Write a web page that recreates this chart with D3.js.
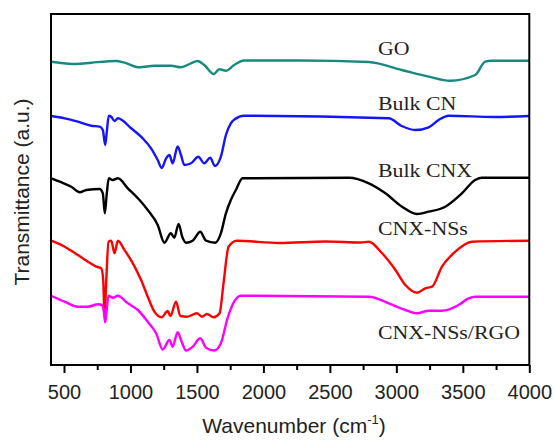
<!DOCTYPE html>
<html><head><meta charset="utf-8">
<script src="https://cdn.jsdelivr.net/npm/d3@7"></script>
<style>body{margin:0;background:#fff}</style>
</head><body>
<svg id="c" width="554" height="440"></svg>
<script>
// ---- data (transmittance in arbitrary units) ----
const seriesNames = ["GO", "Bulk CN", "Bulk CNX", "CNX-NSs", "CNX-NSs/RGO"];
const seriesColors = ["#168a80", "#1414ff", "#000000", "#ff0000", "#ff00ff"];

const goWave = [405,593,705,893,955,1068,1180,1305,1380,1455,1505,1555,1625,1668,1718,1780,1855,2268,2793,3040,3243,3405,3593,3668,3715,4000];
const goT    = [303.3,301,302.3,304,302.3,297.7,299.3,299.3,297.7,301.7,304,300,291,295.7,294.3,300,304.5,304.5,303,295,288.3,284.3,290,303.3,304.3,304.3];

const cnWave = [405,505,605,705,768,792,810,822,837,855,880,905,1005,1092,1155,1205,1235,1268,1293,1317,1355,1380,1405,1455,1510,1555,1600,1635,1680,1718,1755,1818,1855,2943,3040,3143,3243,3318,3393,3735,4000];
const cnT    = [249,246.7,243.3,239.3,238.3,235,220,233.3,249.3,248.3,244,246.7,236.7,226.7,216.7,205,197,206.7,210,201.7,218.5,210,200,201.7,208.3,201.7,207.3,199,208.3,230,241.7,248.3,249.3,246.7,239,235,237.7,245,249.3,248,249];

const cnxWave = [405,468,555,618,668,768,792,807,822,837,867,905,980,1068,1130,1205,1255,1304,1330,1362,1390,1418,1468,1525,1568,1638,1680,1718,1755,1793,1843,2643,2793,2918,3043,3155,3243,3368,3493,3593,3643,4000];
const cnxT    = [186.7,183.3,178.3,172.7,175,176,171.7,151.7,171.7,186.7,185,186.7,176.7,165,155,140,122.3,131.7,127.3,141,128,122.3,124.3,133.3,124.3,122.3,131.7,151.7,165,175,186.7,187.3,181.7,171.7,158.3,151,153.3,158.3,171.7,185,187.3,187.3];

const nsWave = [405,505,605,680,743,780,795,805,818,835,855,880,905,955,1018,1080,1130,1180,1235,1280,1300,1343,1375,1425,1500,1538,1575,1625,1670,1700,1738,1800,2118,2470,2733,2793,2893,2993,3068,3155,3218,3268,3343,3443,3568,4000];
const nsT    = [124.3,118.3,110,103.3,98.3,96.7,85,48.3,85,123.3,124.3,111.7,124.3,115,101.7,85,68.3,53.3,47.7,54,49,63.3,49,48.3,51.7,48.3,51,47.7,51.7,81.7,118.3,124.3,122,123.5,122.5,123.3,111.7,95,80,72.3,76.7,78.3,98.3,113.3,123.3,124.3];

const rgoWave = [405,505,605,680,755,785,800,810,820,835,868,905,980,1055,1130,1193,1243,1293,1317,1355,1385,1418,1468,1525,1568,1630,1680,1730,1780,1830,2793,2943,3068,3155,3243,3343,3468,3543,3593,4000];
const rgoT    = [69,63.3,58.3,58.3,60.7,60,53.3,42.7,53.3,69.3,67.3,69.3,61.7,55,43.3,31.7,15.5,25,18.3,32.7,23.3,14.5,18.3,26.7,17.3,14.5,21.7,46.7,63.3,69.3,68.3,61.7,55,51.7,54.3,54.3,60,66.7,68.3,68.3];

const majorTicks = [500,1000,1500,2000,2500,3000,3500,4000];
const minorTicks = [750,1250,1750,2250,2750,3250,3750];
const xTitle = "Wavenumber (cm";
const xTitleSup = "-1";
const yTitle = "Transmittance (a.u.)";

// ---- layout ----
const svg = d3.select("#c");
const L = 51, R = 529.3, T = 14, B = 365;
const x = d3.scaleLinear().domain([400, 4000]).range([50.7, 529.3]);
const y = d3.scaleLinear().domain([0, 351]).range([B, T]);

const series = [
  {w: goWave, t: goT},
  {w: cnWave, t: cnT},
  {w: cnxWave, t: cnxT},
  {w: nsWave, t: nsT},
  {w: rgoWave, t: rgoT}
].map((s, i) => ({name: seriesNames[i], color: seriesColors[i], pts: s.w.map((w, j) => [w, s.t[j]])}));

const line = d3.line().x(d => x(d[0])).y(d => y(d[1])).curve(d3.curveMonotoneX);

svg.append("g").selectAll("path").data(series).join("path")
  .attr("d", d => line(d.pts))
  .attr("fill", "none")
  .attr("stroke", d => d.color)
  .attr("stroke-width", 2.4)
  .attr("stroke-linejoin", "round");

// frame
svg.append("rect").attr("x", L).attr("y", T).attr("width", R - L).attr("height", B - T)
  .attr("fill", "none").attr("stroke", "#000").attr("stroke-width", 2);

// axes
const gx = svg.append("g").attr("transform", `translate(0,${B})`)
  .call(d3.axisBottom(x).tickValues(majorTicks).tickSize(8).tickPadding(12).tickFormat(d3.format("d")));
gx.select(".domain").remove();
gx.selectAll(".tick line").attr("stroke", "#000").attr("stroke-width", 2);
gx.selectAll(".tick text").attr("font-family", "Liberation Sans, Arial, sans-serif").attr("font-size", 20).attr("fill", "#222");

const gm = svg.append("g").attr("transform", `translate(0,${B})`)
  .call(d3.axisBottom(x).tickValues(minorTicks).tickSize(5).tickFormat(""));
gm.select(".domain").remove();
gm.selectAll(".tick line").attr("stroke", "#000").attr("stroke-width", 2);

// axis titles
const xt = svg.append("text").attr("x", 294).attr("y", 433).attr("text-anchor", "middle")
  .attr("font-family", "Liberation Sans, Arial, sans-serif").attr("font-size", 21).attr("fill", "#222");
xt.append("tspan").text(xTitle);
xt.append("tspan").attr("font-size", 13).attr("dy", -9).text(xTitleSup);
xt.append("tspan").attr("dy", 9).text(")");

svg.append("text").attr("transform", "translate(29,192) rotate(-90)").attr("text-anchor", "middle")
  .attr("font-family", "Liberation Sans, Arial, sans-serif").attr("font-size", 21).attr("fill", "#222")
  .text(yTitle);

// series labels
const labelBase = [55, 109.5, 176.5, 235, 338.5];
svg.append("g").selectAll("text").data(series).join("text")
  .attr("transform", (d, i) => `translate(378,${labelBase[i]}) scale(1.15,1)`)
  .attr("font-family", "Liberation Serif, Times New Roman, serif").attr("font-size", 19).attr("fill", "#222")
  .text(d => d.name);
</script>
</body></html>
